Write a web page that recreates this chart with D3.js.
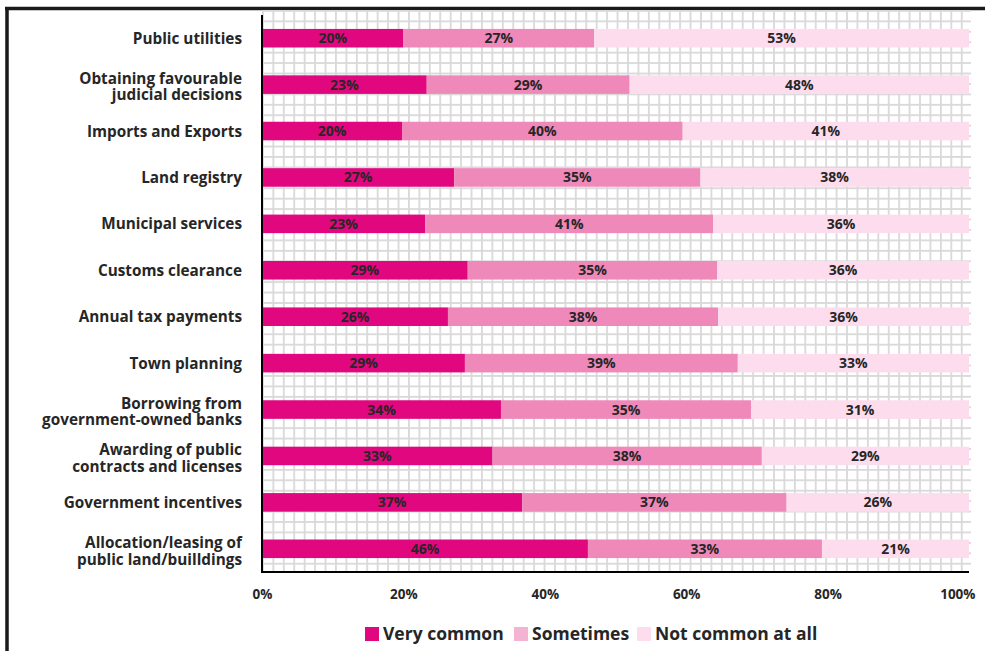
<!DOCTYPE html>
<html>
<head>
<meta charset="utf-8">
<script src="https://cdn.jsdelivr.net/npm/d3@7"></script>
<style>
  html, body { margin: 0; padding: 0; background: #fff; }
  svg { display: block; }
  text { font-family: "Open Sans", Lato, sans-serif; font-weight: 700; fill: #262626; }
</style>
</head>
<body>
<svg id="chart" width="985" height="651"></svg>
<script>
// Sectors (each entry is one or two label lines)
const categories = [
  ["Public utilities"],
  ["Obtaining favourable", "judicial decisions"],
  ["Imports and Exports"],
  ["Land registry"],
  ["Municipal services"],
  ["Customs clearance"],
  ["Annual tax payments"],
  ["Town planning"],
  ["Borrowing from", "government-owned banks"],
  ["Awarding of public", "contracts and licenses"],
  ["Government incentives"],
  ["Allocation/leasing of", "public land/builldings"]
];

// Share of respondents (%) per answer
const veryCommon   = [20.0, 23.3, 19.8, 27.2, 23.1, 29.1, 26.3, 28.7, 33.8, 32.6, 36.8, 46.1];
const sometimes    = [27.0, 28.7, 39.7, 34.8, 40.7, 35.3, 38.2, 38.6, 35.4, 38.1, 37.4, 33.1];
const notCommon    = [53.0, 48.0, 40.5, 38.0, 36.2, 35.6, 35.5, 32.7, 30.8, 29.3, 25.8, 20.8];

const seriesNames  = ["Very common", "Sometimes", "Not common at all"];
const seriesColors = ["#e0077f", "#ee89b9", "#fddded"];
const legendColors = ["#e0077f", "#f4b3d3", "#fddded"];
const xTicks = [0, 20, 40, 60, 80, 100];

const svg = d3.select("#chart");
const W = 985, H = 651;
const plot = { left: 262, right: 969, top: 15, bottom: 572 };

// Outer frame (top and left edges visible)
svg.append("line").attr("x1", 5).attr("x2", W).attr("y1", 8.5).attr("y2", 8.5)
  .attr("stroke", "#1a1a1a").attr("stroke-width", 3.5);
svg.append("line").attr("x1", 7).attr("x2", 7).attr("y1", 7).attr("y2", H)
  .attr("stroke", "#1a1a1a").attr("stroke-width", 3.5);

// Graph-paper fill of the plot area
const defs = svg.append("defs");
const cell = 10.43;
const pat = defs.append("pattern")
  .attr("id", "gridPattern")
  .attr("patternUnits", "userSpaceOnUse")
  .attr("x", plot.left).attr("y", plot.top - 5)
  .attr("width", cell).attr("height", cell);
pat.append("rect").attr("width", cell).attr("height", cell).attr("fill", "#fff");
pat.append("rect").attr("x", 0).attr("y", 0).attr("width", 1.8).attr("height", cell).attr("fill", "#d9d9d9");
pat.append("rect").attr("x", 0).attr("y", 0).attr("width", cell).attr("height", 1.8).attr("fill", "#d9d9d9");

svg.append("rect")
  .attr("x", plot.left).attr("y", plot.top - 5)
  .attr("width", plot.right - plot.left + 2).attr("height", plot.bottom - plot.top + 5)
  .attr("fill", "url(#gridPattern)");

const x = d3.scaleLinear().domain([0, 100]).range([plot.left, plot.right]);
const y = d3.scaleBand().domain(d3.range(categories.length))
  .range([plot.top, plot.bottom]).paddingInner(0.6).paddingOuter(0.3);

const rows = categories.map((c, i) => ({
  i, "Very common": veryCommon[i], "Sometimes": sometimes[i], "Not common at all": notCommon[i]
}));
const stacked = d3.stack().keys(seriesNames)(rows);

const layers = svg.append("g").selectAll("g")
  .data(stacked).join("g")
  .attr("fill", (d, k) => seriesColors[k]);

layers.selectAll("rect")
  .data(d => d).join("rect")
  .attr("x", d => x(d[0]))
  .attr("y", d => y(d.data.i))
  .attr("width", d => Math.max(0, Math.min(x(d[1]), plot.right) - x(d[0])))
  .attr("height", y.bandwidth());

// Value labels centred in each segment
const fmt = v => Math.round(v) + "%";
layers.selectAll("text")
  .data(d => d.map(s => ({ s, key: d.key }))).join("text")
  .attr("x", d => (x(d.s[0]) + Math.min(x(d.s[1]), plot.right)) / 2)
  .attr("y", d => y(d.s.data.i) + y.bandwidth() / 2)
  .attr("dy", "0.36em")
  .attr("text-anchor", "middle")
  .style("font-size", "14px")
  .text(d => fmt(d.s[1] - d.s[0]));

// Category axis labels
const catG = svg.append("g");
categories.forEach((lines, i) => {
  const cy = y(i) + y.bandwidth() / 2 + (lines.length > 1 ? 2 : 0);
  const lh = 16.5;
  const t = catG.append("text")
    .attr("x", 242)
    .attr("text-anchor", "end")
    .style("font-size", "15.3px");
  lines.forEach((ln, j) => {
    t.append("tspan")
      .attr("x", 242)
      .attr("y", cy + (j - (lines.length - 1) / 2) * lh)
      .attr("dy", "0.36em")
      .text(ln);
  });
});

// Axis lines
svg.append("line").attr("x1", plot.left).attr("x2", plot.left)
  .attr("y1", plot.top).attr("y2", plot.bottom + 1)
  .attr("stroke", "#000").attr("stroke-width", 2);
svg.append("line").attr("x1", plot.left - 1).attr("x2", plot.right)
  .attr("y1", plot.bottom).attr("y2", plot.bottom)
  .attr("stroke", "#000").attr("stroke-width", 2);

// X tick labels (the last one is kept inside the frame)
const xAxis = d3.axisBottom(x).tickValues(xTicks).tickFormat(d => d + "%").tickSize(0).tickPadding(0);
const xg = svg.append("g").attr("transform", `translate(0, ${plot.bottom + 17})`).call(xAxis);
xg.select(".domain").remove();
xg.selectAll("text").style("font-size", "13.5px").attr("fill", "#262626")
  .style("font-family", "'Open Sans', sans-serif").style("font-weight", "700");
xg.selectAll(".tick").filter(d => d === 100).select("text")
  .attr("text-anchor", "end").attr("x", 975 - x(100));

// Legend
const legendItems = [
  { name: seriesNames[0], color: legendColors[0], sx: 365 },
  { name: seriesNames[1], color: legendColors[1], sx: 514 },
  { name: seriesNames[2], color: legendColors[2], sx: 637 }
];
const lg = svg.append("g");
legendItems.forEach(it => {
  lg.append("rect").attr("x", it.sx).attr("y", 627).attr("width", 14).attr("height", 14).attr("fill", it.color);
  lg.append("text").attr("x", it.sx + 18).attr("y", 634).attr("dy", "0.36em")
    .style("font-size", "17.5px").text(it.name);
});
</script>
</body>
</html>
